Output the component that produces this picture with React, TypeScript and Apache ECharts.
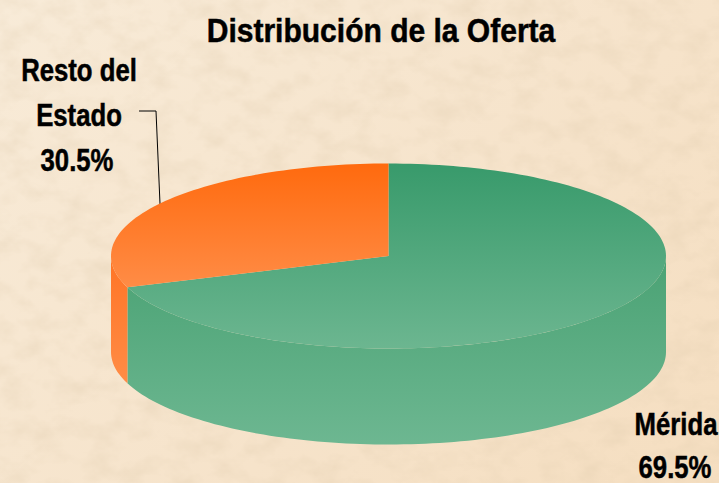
import React, { useEffect, useRef } from "react";
import * as echarts from "echarts";

const titleText = "Distribución de la Oferta";
const categories = ["Mérida", "Resto del Estado"];
const labelLines = [["Mérida"], ["Resto del", "Estado"]];
const values = [69.5, 30.5];
const topColors = [["#389A6B", "#6CB690"], ["#FF6A0E", "#FF8C46"]];
const wallColors = [["#4AA274", "#6DB791"], ["#FF7425", "#FF8C46"]];

const CX = 388.5, CY = 256, RX = 277.5, RY = 92.5, DEPTH = 96;
const FONT = "'Liberation Sans', Arial, sans-serif";

const noise =
  "data:image/svg+xml;utf8," +
  encodeURIComponent(
    `<svg xmlns='http://www.w3.org/2000/svg' width='719' height='483'><filter id='n' x='0' y='0' width='100%' height='100%'><feTurbulence type='fractalNoise' baseFrequency='0.035 0.05' numOctaves='4' seed='7'/><feColorMatrix values='0 0 0 0 0.72  0 0 0 0 0.58  0 0 0 0 0.40  0.6 0 0 0 -0.24'/></filter><rect width='719' height='483' filter='url(#n)'/></svg>`
  );

const pt = (deg: number, dy = 0): number[] => {
  const r = (deg * Math.PI) / 180;
  return [CX + RX * Math.sin(r), CY - RY * Math.cos(r) + dy];
};
const arc = (a: number, b: number, dy = 0): number[][] => {
  const out: number[][] = [];
  const n = Math.max(2, Math.ceil(Math.abs(b - a) / 1.5));
  for (let i = 0; i <= n; i++) out.push(pt(a + ((b - a) * i) / n, dy));
  return out;
};
const grad = (c: string[]) =>
  new echarts.graphic.LinearGradient(0, 0, 0, 1, [
    { offset: 0, color: c[0] },
    { offset: 1, color: c[1] },
  ]);

const renderItem = (params: any, api: any) => {
  const i = params.dataIndex;
  const total = values.reduce((s, v) => s + v, 0);
  const before = values.slice(0, i).reduce((s, v) => s + v, 0);
  const a0 = (before / total) * 360;
  const a1 = a0 + (api.value(0) / total) * 360;
  const children: any[] = [];
  const w0 = Math.max(a0, 90), w1 = Math.min(a1, 270);
  if (w1 > w0) {
    children.push({
      type: "polygon",
      shape: { points: [...arc(w0, w1), ...arc(w1, w0, DEPTH)] },
      style: { fill: grad(wallColors[i]) },
    });
  }
  children.push({
    type: "polygon",
    shape: { points: [[CX, CY], ...arc(a0, a1)] },
    style: { fill: grad(topColors[i]) },
  });
  return { type: "group", children };
};

const textEl = (text: string, x: number, y: number, size: number, scaleX: number) => ({
  type: "text",
  x,
  y,
  scaleX,
  style: {
    text,
    x: 0,
    y: 0,
    align: "center",
    verticalAlign: "middle",
    fill: "#000",
    stroke: "#000",
    lineWidth: 0.5,
    font: `bold ${size}px ${FONT}`,
  },
});

export default function App() {
  const ref = useRef<HTMLDivElement>(null);
  useEffect(() => {
    const chart = echarts.init(ref.current!, undefined, { renderer: "svg" });
    chart.setOption({
      animation: false,
      backgroundColor: "transparent",
      series: [
        {
          type: "custom",
          coordinateSystem: "none",
          renderItem,
          data: values.map((v, i) => ({ name: categories[i], value: [v] })),
          silent: true,
        },
      ],
      graphic: [
        textEl(titleText, 381, 30, 33, 0.91),
        textEl(labelLines[1][0], 79, 70, 31, 0.83),
        textEl(labelLines[1][1], 79, 115, 31, 0.83),
        textEl(`${values[1]}%`, 77, 160, 31, 0.83),
        textEl(labelLines[0][0], 676, 424, 31, 0.83),
        textEl(`${values[0]}%`, 675, 467, 31, 0.83),
        {
          type: "polyline",
          shape: { points: [[139, 111], [156, 111], [160, 204]] },
          style: { stroke: "#000", lineWidth: 1, fill: "none" },
        },
      ],
    });
    return () => chart.dispose();
  }, []);
  return (
    <div
      style={{
        position: "absolute",
        left: 0,
        top: 0,
        width: 719,
        height: 483,
        overflow: "hidden",
        backgroundImage: `url("${noise}"), linear-gradient(135deg, #F8EBD8, #F6E3CA 60%, #F5DEC0)`,
      }}
    >
      <div ref={ref} style={{ width: 719, height: 483 }} />
    </div>
  );
}
